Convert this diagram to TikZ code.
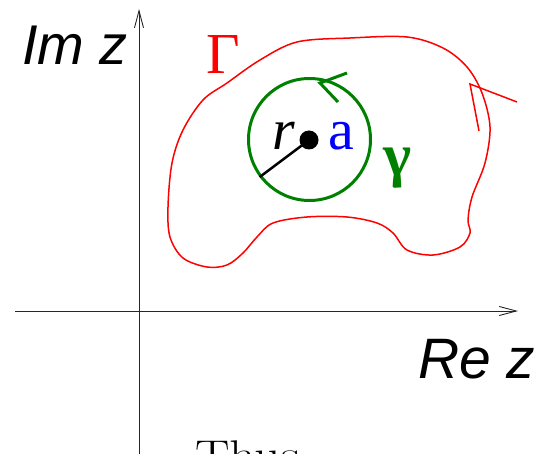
\documentclass[tikz,border=0pt]{standalone}
\usepackage{fontspec}
\newfontfamily\tms{Liberation Serif}
\newfontfamily\hel{Liberation Sans}
\usetikzlibrary{arrows.meta}
\definecolor{gGreen}{RGB}{0,128,0}
\tikzset{
  axis/.style={line width=1pt, black!85, -{Straight Barb[length=17pt,width=9pt,line width=0.9pt]}},
  lbl/.style={inner sep=0pt, anchor=base west},
  gamline/.style={gGreen, line width=3pt},
  redline/.style={red, line width=1.5pt}
}
\begin{document}
\begin{tikzpicture}[x=1pt,y=-1pt]
\useasboundingbox (0,0) rectangle (551,454);
% axes
\coordinate (xs) at (15,311);
\coordinate (xe) at (518,311);
\coordinate (ys) at (139,460);
\coordinate (ye) at (139,9);
\draw[axis] (xs) -- (xe);
\draw[axis] (ys) -- (ye);
% labels of axes
\node[lbl] (im) at (22,65) {\fontsize{56}{60}\selectfont\hel\itshape Im z};
\node[lbl] (re) at (418,378) {\fontsize{57}{60}\selectfont\hel\itshape Re z};
% Gamma curve
\draw[redline] plot[smooth cycle, tension=0.55] coordinates {
 (297,42) (350,38) (407,37) (443,48) (467,67) (482,93) (490,127) (485,163)
 (472,197) (468,220) (470,233) (460,247) (433,255) (407,250) (393,233)
 (377,223) (347,217) (307,217) (273,223) (257,237) (243,253) (227,265)
 (207,267) (183,258) (170,237) (168,207) (172,163) (183,130) (203,100)
 (227,83) (260,60)};
\coordinate (rv) at (470,84);
\coordinate (ra) at (517,102);
\coordinate (rb) at (479,131);
\draw[redline] (ra) -- (rv) -- (rb);
\node[lbl, red] (G) at (206,74) {\fontsize{58}{60}\selectfont\tms Γ};
% gamma circle
\node[draw=gGreen, line width=3pt, circle, minimum size=122pt, inner sep=0pt] (gam) at (309.5,139.5) {};
\coordinate (gv) at (320,83);
\coordinate (ga) at (347,73);
\coordinate (gb) at (338,102);
\draw[gamline] (ga) -- (gv) -- (gb);
% centre point and radius
\node[circle, fill=black, minimum size=19pt, inner sep=0pt] (dot) at (309,140) {};
\draw[line width=2.5pt] (dot.center) -- (gam.217.6);
\node[lbl] (r) at (272,150) {\fontsize{58}{60}\selectfont\tms\itshape r};
\node[lbl, blue] (a) at (328,150) {\fontsize{58}{60}\selectfont\tms a};
\node[lbl, gGreen] (g) at (383,176) {\fontsize{60}{60}\selectfont\tms\bfseries γ};
% cut-off text
\node[lbl] (thus) at (195,468) {\fontsize{40}{44}\selectfont\scalebox{1.29}[1]{Thus}};
\end{tikzpicture}
\end{document}
